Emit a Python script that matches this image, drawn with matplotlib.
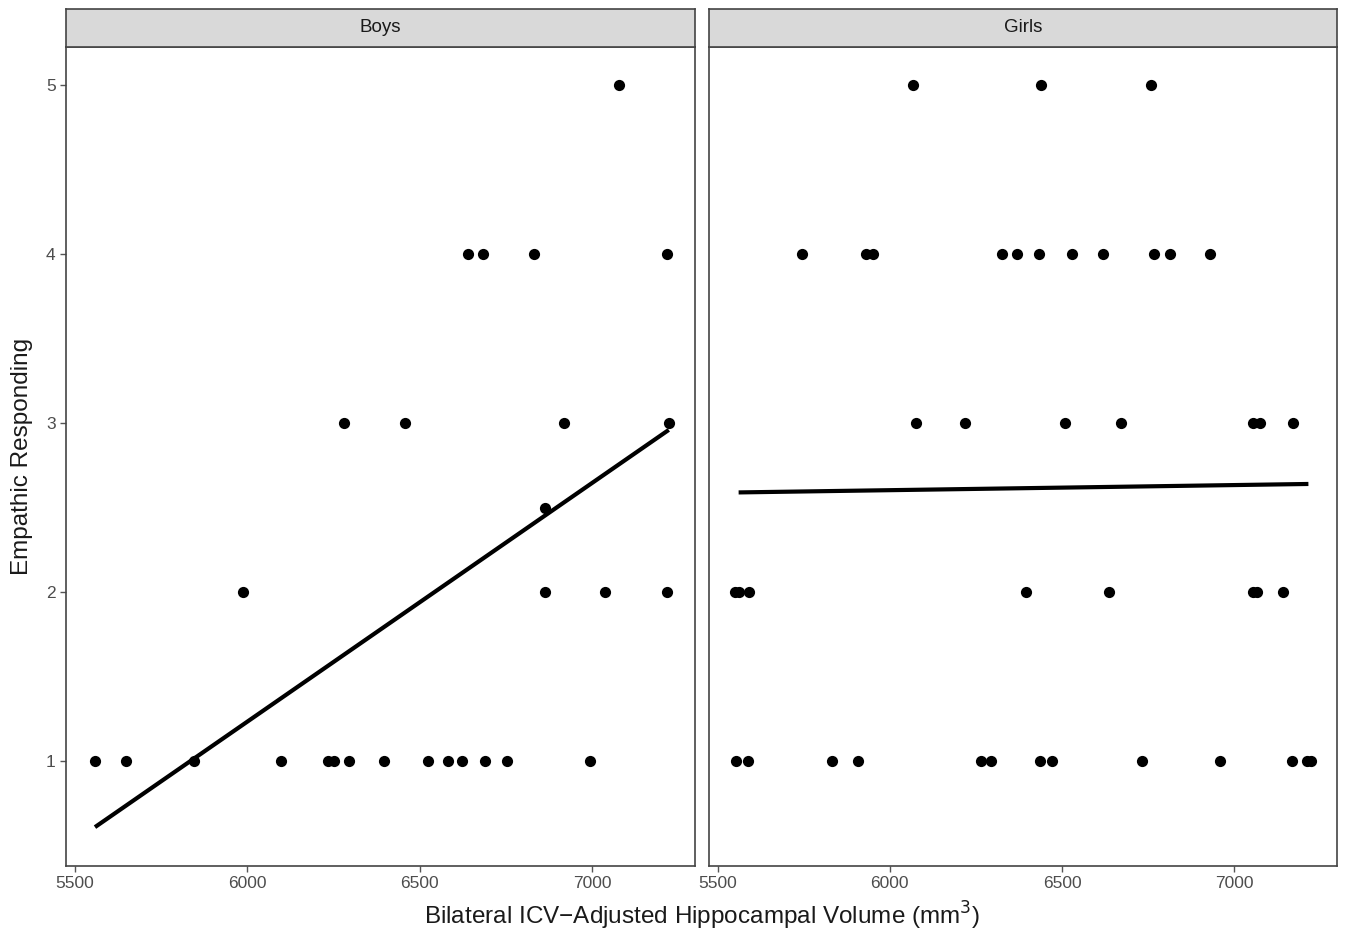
import matplotlib.pyplot as plt
import numpy as np

plt.rcParams['font.family'] = ['Liberation Sans', 'DejaVu Sans']

# Boys: hippocampal volume (mm3) and empathic responding
boys_x = [5559, 5649, 5846, 6097, 6235, 6252, 6296, 6396, 6523, 6581, 6624, 6690, 6754, 6995,
          5987, 6862, 7038, 7218,
          6862,
          6280, 6458, 6917, 7222,
          6639, 6684, 6832, 7216,
          7078]
boys_y = [1] * 14 + [2] * 4 + [2.5] + [3] * 4 + [4] * 4 + [5]

# Girls
girls_x = [5553, 5587, 5831, 5908, 6265, 6295, 6435, 6471, 6733, 6958, 7167, 7210, 7222,
           5550, 5562, 5590, 6396, 6637, 7055, 7065, 7140,
           6077, 6217, 6509, 6670, 7054, 7074, 7170,
           5745, 5932, 5950, 6325, 6370, 6432, 6529, 6620, 6767, 6812, 6929,
           6066, 6438, 6757]
girls_y = [1] * 13 + [2] * 8 + [3] * 7 + [4] * 11 + [5] * 3

# fitted lines (start, end)
boys_fit_x = [5559, 7222]
boys_fit_y = [0.61, 2.96]
girls_fit_x = [5561, 7215]
girls_fit_y = [2.59, 2.64]

x_ticks = [5500, 6000, 6500, 7000]
y_ticks = [1, 2, 3, 4, 5]

W, H = 1346, 938
fig = plt.figure(figsize=(W / 100, H / 100), dpi=100)

panels = [
    ('Boys', 66, 695, boys_x, boys_y, boys_fit_x, boys_fit_y),
    ('Girls', 709, 1337, girls_x, girls_y, girls_fit_x, girls_fit_y),
]
top, bottom, strip_top = 47, 866, 9
edge = '#444444'

for i, (name, x0, x1, xs, ys, fx, fy) in enumerate(panels):
    ax = fig.add_axes([x0 / W, 1 - bottom / H, (x1 - x0) / W, (bottom - top) / H])
    ax.scatter(xs, ys, s=65, color='black', zorder=3, linewidths=0)
    ax.plot(fx, fy, color='black', lw=3.0, solid_capstyle='butt')
    ax.set_xlim(5475, 7298)
    ax.set_ylim(0.38, 5.225)
    ax.set_xticks(x_ticks)
    ax.set_yticks(y_ticks)
    ax.tick_params(colors='#555555', labelcolor='#4d4d4d', labelsize=12.5, length=4, width=1)
    for sp in ax.spines.values():
        sp.set_color(edge)
        sp.set_linewidth(1.2)
    if i == 1:
        ax.tick_params(axis='y', left=False, labelleft=False)

    sx = fig.add_axes([x0 / W, 1 - top / H, (x1 - x0) / W, (top - strip_top) / H])
    sx.set_facecolor('#d9d9d9')
    sx.set_xticks([])
    sx.set_yticks([])
    for sp in sx.spines.values():
        sp.set_color(edge)
        sp.set_linewidth(1.2)
    sx.text(0.5, 0.5, name, ha='center', va='center', fontsize=13.5, color='#1a1a1a',
            transform=sx.transAxes)

fig.text(702 / W, 1 - 916 / H, 'Bilateral ICV\u2212Adjusted Hippocampal Volume (mm$^3$)',
         ha='center', va='center', fontsize=17.5, color='#1a1a1a')
fig.text(22 / W, 1 - 456 / H, 'Empathic Responding', ha='center', va='center',
         rotation=90, fontsize=17.5, color='#1a1a1a')

fig.savefig('out.png', dpi=100)
